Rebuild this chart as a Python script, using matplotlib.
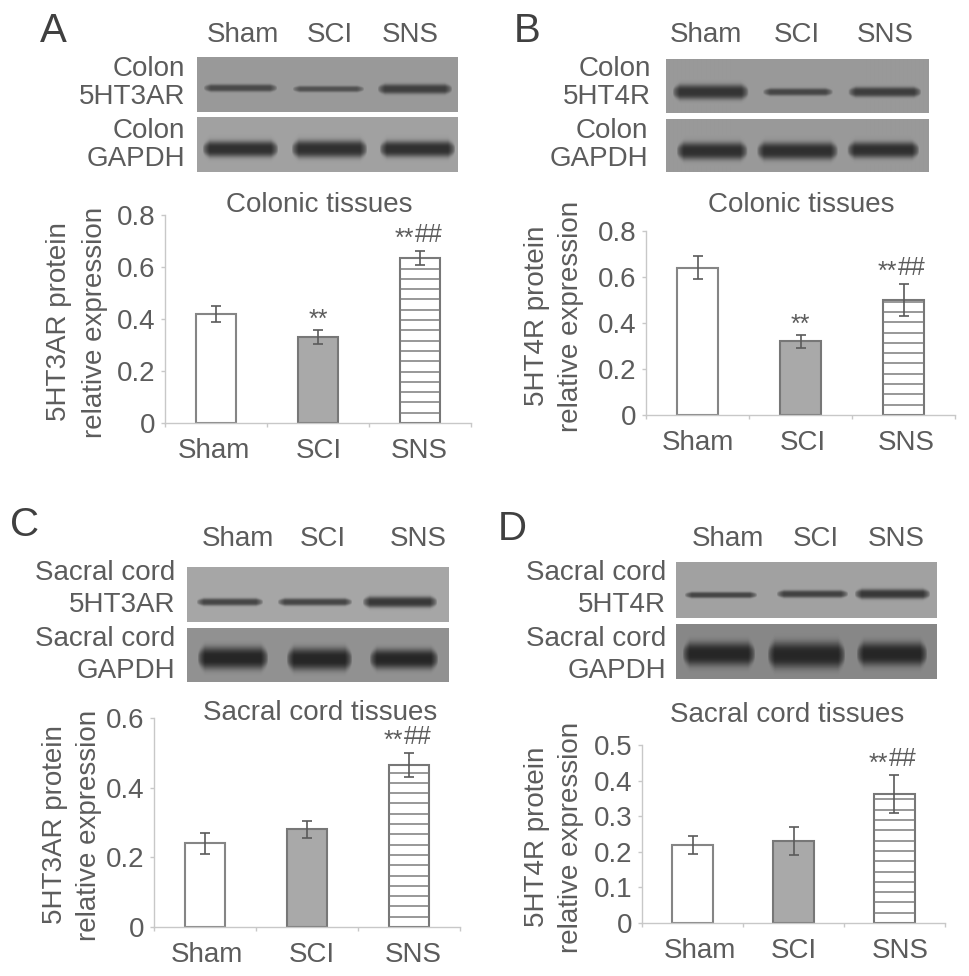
import matplotlib
matplotlib.use('Agg')
import matplotlib.pyplot as plt
import numpy as np

W, H = 969, 976
TEXT = '#5c5c5c'
plt.rcParams['font.family'] = ['Liberation Sans', 'DejaVu Sans']

groups = ['Sham', 'SCI', 'SNS']

# bar heights and error bars
means_a = [0.42, 0.33, 0.635]
errs_a = [0.03, 0.027, 0.028]
marks_a = ['', '**', '**##']
ticks_a = [0, 0.2, 0.4, 0.6, 0.8]

means_b = [0.64, 0.32, 0.50]
errs_b = [0.05, 0.027, 0.07]
marks_b = ['', '**', '**##']
ticks_b = [0, 0.2, 0.4, 0.6, 0.8]

means_c = [0.24, 0.28, 0.465]
errs_c = [0.03, 0.025, 0.035]
marks_c = ['', '', '**##']
ticks_c = [0, 0.2, 0.4, 0.6]

means_d = [0.218, 0.23, 0.362]
errs_d = [0.025, 0.04, 0.053]
marks_d = ['', '', '**##']
ticks_d = [0, 0.1, 0.2, 0.3, 0.4, 0.5]

fig = plt.figure(figsize=(W / 100, H / 100), dpi=100, facecolor='white')


def put(x, y, s, size=20, ha='center', va='center', rot=0, color=TEXT):
    # va='center' counts the descender, so nudge towards the visual centre
    if rot:
        x += 2.5
    else:
        y += 2.5
    fig.text(x / W, 1 - y / H, s, fontsize=size, ha=ha, va=va, rotation=rot, color=color)


def box(x0, x1, y0, y1):
    return fig.add_axes([x0 / W, 1 - y1 / H, (x1 - x0) / W, (y1 - y0) / H])


def blot(x0, x1, y0, y1, bg, bands):
    # western blot strip, bands are (left, right, centre y, height, darkness)
    ax = box(x0, x1, y0, y1)
    xx, yy = np.meshgrid(np.arange(x0, x1) + 0.5, np.arange(y0, y1) + 0.5)
    dark = np.zeros_like(xx)
    for left, right, yc, h, d in bands:
        across = np.clip((xx - left) / 7, 0, 1) * np.clip((right - xx) / 7, 0, 1)
        thick = h * 0.6 * (0.35 + 0.65 * np.sqrt(across)) + 0.01
        dark += d * np.sqrt(across) * np.exp(-np.abs((yy - yc) / thick) ** 3)
    img = bg - (bg - 0.15) * np.clip(dark, 0, 1)
    ax.imshow(img, cmap='gray', vmin=0, vmax=1, aspect='auto', interpolation='bilinear')
    ax.axis('off')


def bars(x0, x1, y0, y1, means, errs, marks, ticks, shift):
    ax = box(x0, x1, y1, y0)
    pos = np.arange(len(groups)) + 0.5
    ax.set_xlim(0, len(groups))
    ax.set_ylim(0, ticks[-1])
    ax.patch.set_alpha(0)
    edge = '#777777'
    ax.bar(pos[0], means[0], 0.4, color='white', edgecolor='#858585', linewidth=1.5)
    ax.bar(pos[1], means[1], 0.4, color='#a9a9a9', edgecolor=edge, linewidth=1.5)
    ax.bar(pos[2], means[2], 0.4, color='white', edgecolor=edge, linewidth=1.5)
    # stripes of the SNS bar, about 10 px apart
    step = ticks[-1] / (y0 - y1) * 10.3
    ax.hlines(np.arange(step, means[2], step), pos[2] - 0.2, pos[2] + 0.2, color='#7c7c7c', linewidth=1.1)
    ax.errorbar(pos, means, yerr=errs, fmt='none', ecolor='#5a5a5a', elinewidth=1.2, capsize=3.5, capthick=1.2)
    for p, m, e, s in zip(pos, means, errs, marks):
        top = m + e
        if s == '**':
            ax.annotate('**', (p, top), xytext=(0, 2.5), textcoords='offset points', ha='center', va='baseline', fontsize=18, color=TEXT)
        elif s == '**##':
            ax.annotate('**', (p, top), xytext=(-11.5, 3.5), textcoords='offset points', ha='center', va='baseline', fontsize=18, color=TEXT)
            ax.annotate('##', (p, top), xytext=(6, 6.5), textcoords='offset points', ha='center', va='baseline', fontsize=18, color=TEXT)
    for side in ['top', 'right']:
        ax.spines[side].set_visible(False)
    for side in ['left', 'bottom']:
        ax.spines[side].set_color('#c8c8c8')
        ax.spines[side].set_linewidth(1.0)
    ax.set_xticks(np.arange(len(groups) + 1))
    ax.set_xticklabels([])
    ax.set_xticks(pos + np.array(shift), minor=True)
    ax.set_xticklabels(groups, minor=True)
    ax.tick_params(axis='x', which='major', length=3, color='#c8c8c8', width=1)
    ax.tick_params(axis='x', which='minor', length=0, pad=10.5, labelsize=20, labelcolor=TEXT)
    ax.set_yticks(ticks)
    ax.set_yticklabels(['%g' % t for t in ticks])
    ax.tick_params(axis='y', length=3, color='#c8c8c8', width=1, pad=4, labelsize=20, labelcolor=TEXT)
    return ax


# panel A
put(53, 28, 'A', size=29, color='#404040')
for x, g in zip([243, 330, 410], groups):
    put(x, 32, g)
for y, s in zip([66, 95, 128, 157], ['Colon', '5HT3AR', 'Colon', 'GAPDH']):
    put(185, y, s, ha='right')
blot(197, 458, 57, 112, 0.60, [(204, 277, 88, 6, 0.7), (293, 364, 89, 5, 0.62), (378, 452, 89, 8, 0.78)])
blot(197, 458, 117, 172, 0.63, [(203, 278, 149, 13, 0.92), (292, 367, 149, 14, 0.92), (380, 455, 149, 13, 0.92)])
put(319, 202, 'Colonic tissues')
put(57, 322, '5HT3AR protein', rot=90)
put(92, 322, 'relative expression', rot=90)
bars(165, 471, 423, 215, means_a, errs_a, marks_a, ticks_a, [-0.02, 0.01, -0.01])

# panel B
put(527, 28, 'B', size=29, color='#404040')
for x, g in zip([706, 797, 885], groups):
    put(x, 32, g)
for y, s, r in zip([66, 95, 128, 157], ['Colon', '5HT4R', 'Colon', 'GAPDH'], [651, 651, 648, 648]):
    put(r, y, s, ha='right')
blot(666, 928, 59, 113, 0.60, [(673, 748, 92, 12, 0.88), (763, 832, 92, 6, 0.72), (848, 920, 92, 8, 0.8)])
blot(666, 928, 119, 172, 0.60, [(677, 747, 151, 14, 0.92), (757, 837, 151, 14, 0.92), (847, 918, 150, 13, 0.92)])
put(801, 202, 'Colonic tissues')
put(534, 316, '5HT4R protein', rot=90)
put(568, 316, 'relative expression', rot=90)
bars(646, 955, 415, 231, means_b, errs_b, marks_b, ticks_b, [0, 0.02, 0.03])

# panel C
put(25, 522, 'C', size=29, color='#404040')
for x, g in zip([238, 323, 418], groups):
    put(x, 537, g)
for y, s in zip([571, 602, 636, 668], ['Sacral cord', '5HT3AR', 'Sacral cord', 'GAPDH']):
    put(175, y, s, ha='right')
blot(187, 449, 567, 622, 0.65, [(197, 263, 602, 6, 0.75), (278, 352, 602, 6, 0.75), (363, 437, 602, 9, 0.85)])
blot(187, 449, 628, 682, 0.57, [(198, 268, 658, 18, 1.0), (287, 352, 659, 18, 1.0), (370, 438, 659, 16, 1.0)])
put(320, 710, 'Sacral cord tissues')
put(52, 825, '5HT3AR protein', rot=90)
put(87, 825, 'relative expression', rot=90)
bars(154, 460, 927, 718, means_c, errs_c, marks_c, ticks_c, [0.02, 0.05, 0.04])

# panel D
put(512, 527, 'D', size=29, color='#404040')
for x, g in zip([728, 816, 896], groups):
    put(x, 537, g)
for y, s in zip([571, 603, 636, 668], ['Sacral cord', '5HT4R', 'Sacral cord', 'GAPDH']):
    put(666, y, s, ha='right')
blot(676, 937, 562, 618, 0.63, [(685, 757, 595, 5, 0.75), (777, 848, 594, 6, 0.78), (855, 930, 594, 8, 0.85)])
blot(676, 937, 624, 679, 0.53, [(683, 755, 654, 19, 1.0), (768, 845, 655, 21, 1.0), (857, 927, 654, 19, 1.0)])
put(787, 712, 'Sacral cord tissues')
put(534, 837, '5HT4R protein', rot=90)
put(568, 837, 'relative expression', rot=90)
bars(642, 945, 923, 745, means_d, errs_d, marks_d, ticks_d, [0.07, 0, 0.06])

plt.savefig('out.png', dpi=100)
